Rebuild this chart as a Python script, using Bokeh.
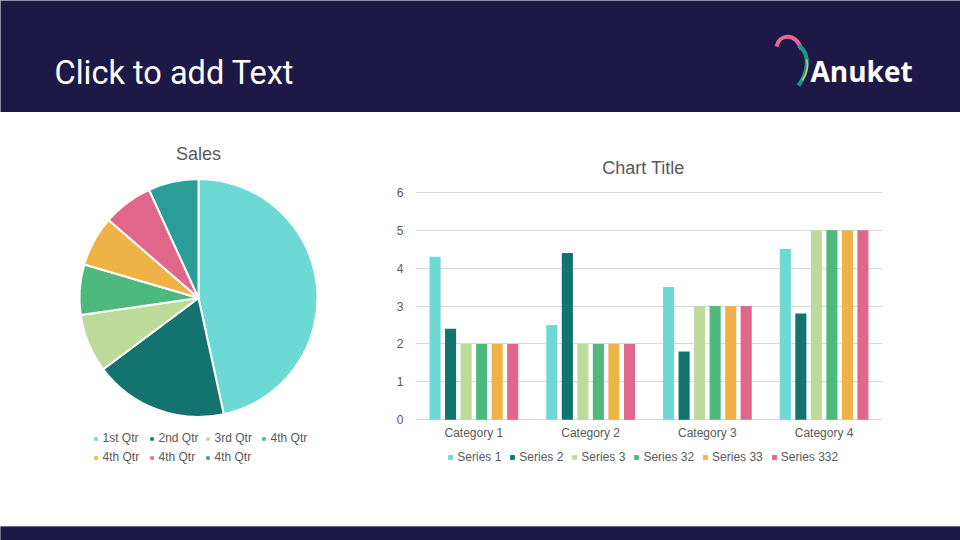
import math
from bokeh.plotting import figure
from bokeh.layouts import column, row
from bokeh.models import Range1d, FactorRange, ColumnDataSource, Legend, LegendItem, Label
from bokeh.transform import dodge
from bokeh.embed import file_html
from bokeh.resources import INLINE
from bokeh.core.properties import value

# ---------------- data ----------------
pie_title = "Sales"
pie_labels = ["1st Qtr", "2nd Qtr", "3rd Qtr", "4th Qtr", "4th Qtr", "4th Qtr", "4th Qtr"]
pie_values = [8.2, 3.2, 1.4, 1.2, 1.2, 1.2, 1.2]
pie_colors = ["#6dd9d4", "#13736f", "#bcdb9b", "#4db97c", "#efb246", "#e0668b", "#2a9d97"]

bar_title = "Chart Title"
categories = ["Category 1", "Category 2", "Category 3", "Category 4"]
series_names = ["Series 1", "Series 2", "Series 3", "Series 32", "Series 33", "Series 332"]
series_1 = [4.3, 2.5, 3.5, 4.5]
series_2 = [2.4, 4.4, 1.8, 2.8]
series_3 = [2, 2, 3, 5]
series_32 = [2, 2, 3, 5]
series_33 = [2, 2, 3, 5]
series_332 = [2, 2, 3, 5]
series_colors = ["#6dd9d4", "#13736f", "#bcdb9b", "#4db97c", "#efb246", "#e0668b"]
y_ticks = [0, 1, 2, 3, 4, 5, 6]

header_text = "Click to add Text"
logo_text = "Anuket"

NAVY = "#1e1846"
GRAY = "#595959"
FONT = "Liberation Sans"

# layout constants (page pixels)
TOP, BOTTOM = 112, 526          # white body band
Y0_PX, Y6_PX = 419.3, 191.7     # where value 0 and value 6 fall

# ---------------- header ----------------
header = figure(width=960, height=TOP, x_range=Range1d(0, 960), y_range=Range1d(TOP, 0),
                output_backend="svg", toolbar_location=None,
                x_axis_location=None, y_axis_location=None, min_border=0,
                background_fill_color=NAVY, border_fill_color=NAVY, outline_line_color=None)
header.grid.visible = False
header.add_layout(Label(x=54, y=72, text=header_text, text_font="Roboto", text_font_size="32.5px",
                        text_color="white", text_baseline="alphabetic"))
header.add_layout(Label(x=810, y=70.5, text=logo_text, text_font="Open Sans", text_font_style="bold",
                        text_font_size="28px", text_color="white", text_baseline="alphabetic"))
# logo strokes (decorative)
header.bezier(x0=[776], y0=[46], cx0=[779], cy0=[33], cx1=[795], cy1=[32], x1=[801], y1=[49],
              line_color="#e06a95", line_width=4)
header.bezier(x0=[798], y0=[45], cx0=[812], cy0=[55], cx1=[806], cy1=[74], x1=[798], y1=[85],
              line_color="#1a9a8d", line_width=4)
header.bezier(x0=[806], y0=[59], cx0=[809], cy0=[66], cx1=[806], cy1=[73], x1=[802], y1=[80],
              line_color="#e8c25a", line_width=1.5)

# ---------------- pie ----------------
total = sum(pie_values)
starts, ends = [], []
acc = 0.0
for v in pie_values:
    starts.append(math.pi / 2 - 2 * math.pi * acc / total)
    acc += v
    ends.append(math.pi / 2 - 2 * math.pi * acc / total)
pie_src = ColumnDataSource(dict(start=starts, end=ends, color=pie_colors, label=pie_labels))

pie = figure(width=390, height=BOTTOM - TOP, x_range=Range1d(0, 390), y_range=Range1d(-BOTTOM, -TOP),
             output_backend="svg", toolbar_location=None,
             x_axis_location=None, y_axis_location=None, min_border=0,
             outline_line_color=None)
pie.grid.visible = False
wr = pie.wedge(x=198, y=-297.5, radius=119, start_angle="start", end_angle="end", direction="clock",
               fill_color="color", line_color="white", line_width=2, source=pie_src)
pie.add_layout(Label(x=198, y=-153, text=pie_title, text_font=FONT, text_font_size="18px",
                     text_color=GRAY, text_align="center", text_baseline="middle"))

def pie_legend(idx, loc):
    leg = Legend(items=[LegendItem(label=value(pie_labels[i]), renderers=[wr], index=i) for i in idx],
                 location=loc, orientation="horizontal", glyph_width=7, glyph_height=7,
                 label_standoff=4, label_width=40, label_height=20, spacing=5, padding=0, margin=0,
                 border_line_color=None, background_fill_alpha=0,
                 label_text_font=FONT, label_text_font_size="12px", label_text_color=GRAY)
    pie.add_layout(leg)

pie_legend([0, 1, 2, 3], (91.5, BOTTOM - 438 - 10))
pie_legend([4, 5, 6], (91.5, BOTTOM - 457 - 10))

# ---------------- bars ----------------
bar_src = ColumnDataSource(dict(cat=categories, s1=series_1, s2=series_2, s3=series_3,
                                s32=series_32, s33=series_33, s332=series_332))
cols = ["s1", "s2", "s3", "s32", "s33", "s332"]

unit = (Y0_PX - Y6_PX) / 6.0
bar = figure(width=960 - 390, height=BOTTOM - TOP,
             x_range=FactorRange(factors=categories, range_padding=0),
             y_range=Range1d(-(BOTTOM - Y0_PX) / unit, 6 + (Y6_PX - TOP) / unit),
             output_backend="svg", toolbar_location=None,
             min_border_left=25, min_border_right=78, min_border_top=0, min_border_bottom=0,
             outline_line_color=None)
pitch = 0.133
items = []
for i, (c, name, color) in enumerate(zip(cols, series_names, series_colors)):
    r = bar.vbar(x=dodge("cat", (i - 2.5) * pitch, range=bar.x_range), top=c, width=0.095,
                 fill_color=color, line_color=None, source=bar_src)
    items.append(LegendItem(label=value(name), renderers=[r]))

bar.xgrid.visible = False
bar.ygrid.grid_line_color = "#d9d9d9"
bar.yaxis.ticker = y_ticks
for ax in (bar.xaxis, bar.yaxis):
    ax.axis_line_color = None
    ax.major_tick_line_color = None
    ax.minor_tick_line_color = None
    ax.major_label_text_font = FONT
    ax.major_label_text_font_size = "12px"
    ax.major_label_text_color = GRAY
bar.yaxis.major_label_standoff = 6
bar.xaxis.fixed_location = 0
bar.xaxis.major_label_standoff = 0

bar.add_layout(Label(x=1.953, y=(Y0_PX - 167) / unit, text=bar_title, text_font=FONT,
                     text_font_size="18px", text_color=GRAY, text_align="center",
                     text_baseline="middle"))
bar.add_layout(Legend(items=items, location=(32.3, BOTTOM - 457 - 10), orientation="horizontal",
                      glyph_width=6, glyph_height=6, label_standoff=4, label_height=20, spacing=8,
                      padding=0, margin=0, border_line_color=None, background_fill_alpha=0,
                      label_text_font=FONT, label_text_font_size="12px", label_text_color=GRAY))

# ---------------- footer ----------------
footer = figure(width=960, height=540 - BOTTOM, x_range=Range1d(0, 1), y_range=Range1d(0, 1),
                output_backend="svg", toolbar_location=None,
                x_axis_location=None, y_axis_location=None, min_border=0,
                background_fill_color=NAVY, border_fill_color=NAVY, outline_line_color=None)
footer.grid.visible = False
footer.quad(left=[0], right=[1], bottom=[0], top=[1], fill_color=NAVY, line_color=None)

layout = column(header, row(pie, bar), footer)
open("out.html", "w").write(file_html(layout, INLINE))
